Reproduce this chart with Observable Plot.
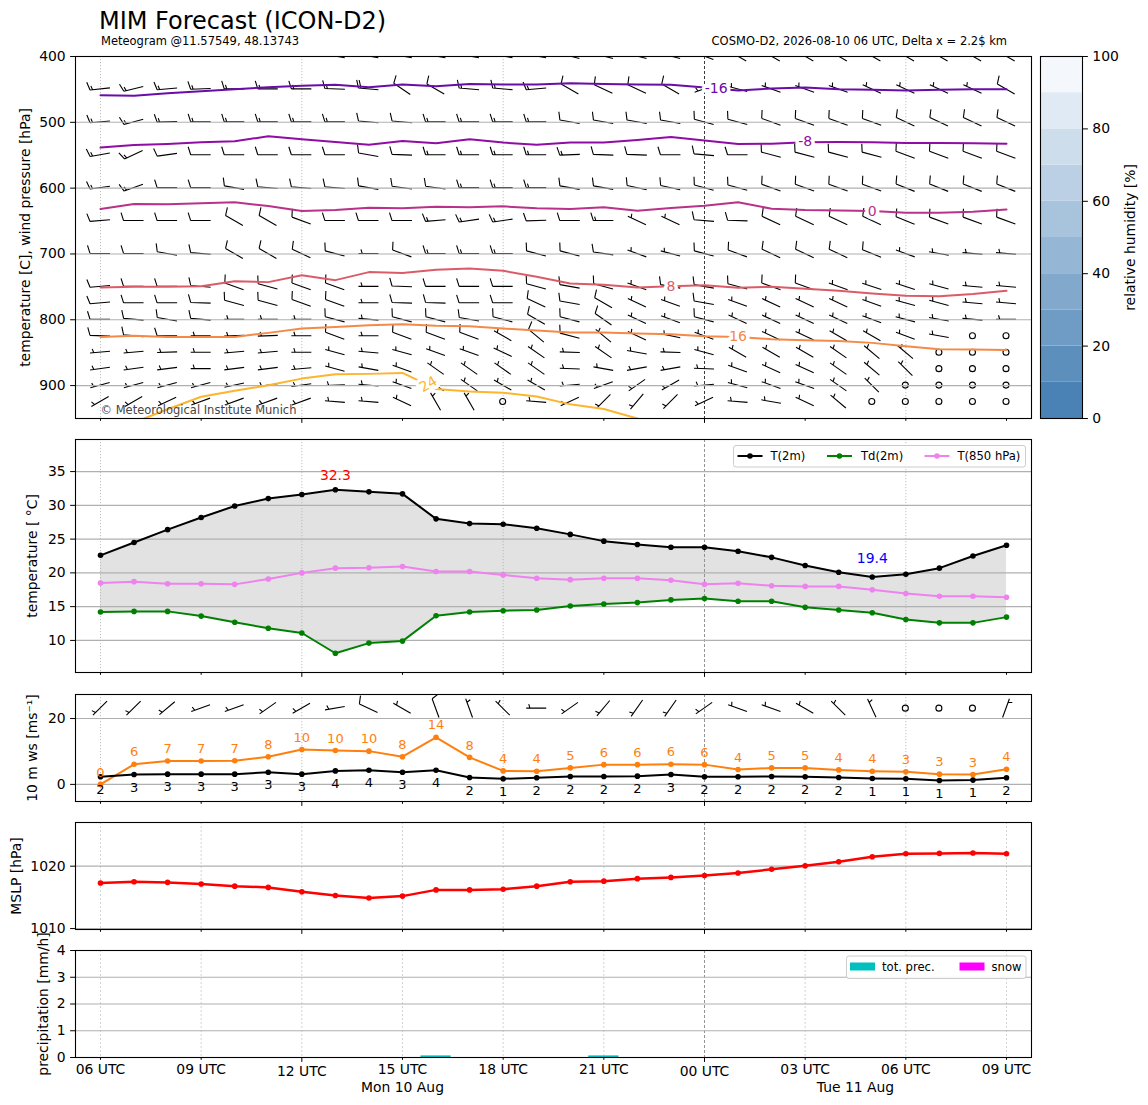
<!DOCTYPE html>
<html><head><meta charset="utf-8">
<script src="https://cdn.jsdelivr.net/npm/d3@7"></script>
<script src="https://cdn.jsdelivr.net/npm/@observablehq/plot@0.6"></script>
<style>
body{margin:0;background:#fff;font-family:"DejaVu Sans",sans-serif;}
#fig{position:relative;width:1148px;height:1105px;overflow:hidden;background:#fff;}
</style></head><body><div id="fig"></div>
<script>
// ---------------- DATA ----------------
const hours = [0,1,2,3,4,5,6,7,8,9,10,11,12,13,14,15,16,17,18,19,20,21,22,23,24,25,26,27]; // hours since Mon 06 UTC
const tickHours = [0,3,6,9,12,15,18,21,24,27];
const tickLabels = ["06 UTC","09 UTC","12 UTC","15 UTC","18 UTC","21 UTC","00 UTC","03 UTC","06 UTC","09 UTC"];
const majorHours = [6,18];
const dayLabels = ["Mon 10 Aug","Tue 11 Aug"];
const dayCenters = [9,22.5];

const t2m  = [22.6,24.5,26.4,28.2,29.9,31.0,31.6,32.3,32.0,31.7,28.0,27.3,27.2,26.6,25.7,24.7,24.2,23.8,23.8,23.2,22.3,21.1,20.1,19.4,19.8,20.7,22.5,24.1];
const td2m = [14.2,14.3,14.3,13.6,12.7,11.8,11.1,8.1,9.6,9.9,13.65,14.2,14.4,14.5,15.1,15.4,15.6,16.0,16.2,15.8,15.8,14.9,14.5,14.1,13.1,12.6,12.6,13.45];
const t850 = [18.5,18.7,18.4,18.4,18.3,19.1,20.0,20.7,20.75,20.95,20.2,20.2,19.7,19.2,19.0,19.2,19.2,18.9,18.3,18.45,18.1,18.0,18.0,17.5,16.95,16.55,16.55,16.4];

const gust10 = [0.0,6.1,7.1,7.1,7.2,8.4,10.6,10.3,10.1,8.4,14.3,8.2,4.1,4.0,5.0,6.0,6.0,6.1,6.0,4.5,5.0,5.0,4.4,4.0,3.8,3.1,3.0,4.6];
const ws10   = [2.3,3.0,3.1,3.1,3.1,3.7,3.1,4.1,4.3,3.7,4.3,2.1,1.7,2.0,2.4,2.4,2.5,3.0,2.3,2.3,2.4,2.3,2.1,1.8,1.7,1.2,1.3,2.0];
const wind10Dir = [225,225,230,250,250,235,240,260,295,300,340,340,315,270,235,220,215,215,235,290,290,300,315,335,0,0,0,20];
const wind10Spd = [5,5,5,5,5,5,5,5,10,5,10,5,5,5,5,5,5,5,5,5,5,5,5,5,0,0,0,5];

const mslp = [1017.3,1017.5,1017.4,1017.15,1016.8,1016.6,1015.9,1015.3,1014.9,1015.2,1016.2,1016.2,1016.3,1016.8,1017.5,1017.6,1018.0,1018.2,1018.5,1018.9,1019.5,1020.05,1020.7,1021.5,1022.0,1022.05,1022.1,1022.0];

const precipHours = [10,15];
const precipValues = [0.06,0.06];
const snowValues = [0,0];

// isotherms (pressure in hPa at each hour)
const isoLevels = ["-16","-8","0","8","16","24"];
const isoColors = ["#6a0ca8","#8f0da4","#b83289","#db5c68","#f48a47","#fdb52e"];
const isoM16 = [458.8,459.8,455.8,452.7,449.7,446.7,444.6,443.1,446.7,442.6,445.1,441.6,442.6,442.6,440.6,441.6,442.6,443.1,447,451.7,448.7,447.2,449.7,450.7,451.7,450.7,449.7,449.7];
const isoM8  = [538.4,534.4,532.9,530.3,528.8,521.2,525.8,529.8,533.9,528.3,531.8,525.8,530.8,533.9,530.8,530.8,526.8,522.2,527.8,532.9,532.4,530.3,529.8,530.3,531.3,531.3,531.8,532.4];
const iso0   = [631.7,624.1,624.6,623.1,621.6,627.2,634.8,633.3,629.7,630.7,628.2,629.2,627.7,630.7,631.7,629.2,634.3,630.2,626.7,621.6,631.2,633.3,633.8,634.8,637.3,637.3,635.8,632.3];
const iso8   = [750.9,749.9,749.9,748.9,741.3,742.8,732.2,739.8,727.6,729.1,724.0,722.0,725.6,734.7,745.0,746.9,750.9,749.0,747.4,751.4,749.9,752.9,756.0,760.0,763.6,764.1,761.0,756.0];
const iso16  = [826.0,824.4,826.0,826.0,826.0,819.9,813.3,810.8,808.2,806.7,809.2,809.7,813.3,816.3,819.4,819.4,820.9,822.0,825.0,826.0,829.6,831.1,832.1,835.1,840.2,844.8,845.3,845.8];
const iso24  = [975,956,936,917,908,899.5,889.4,882.7,882.2,880.7,905,909,911,916.6,928.5,935.5,950,965];
const isoLabelHours = [18.35,21,23,17,19,9.77];
const isoLabelPress = [448,529.5,635.5,749.5,825.5,898];

// wind barbs at pressure levels (direction deg, speed kt)
const barbLevels = [400,450,500,550,600,650,700,750,775,800,825,850,875,900,925];
const barbDir = [
 [270,270,270,270,270,270,270,280,280,280,280,280,280,280,285,285,285,285,290,300,300,300,300,300,300,300,300,300],
 [264,256,265,268,270,270,270,272,275,304,300,275,275,265,300,295,295,300,250,285,290,290,290,295,295,295,295,300],
 [265,255,268,270,270,270,270,270,275,275,270,270,270,270,280,280,280,280,285,285,290,290,290,290,295,295,295,295],
 [260,245,262,270,270,270,270,270,280,272,270,270,270,270,268,272,272,270,275,270,285,285,285,285,290,290,290,290],
 [262,250,270,270,280,275,275,275,280,278,278,270,270,270,280,280,282,282,285,285,290,290,290,290,292,292,292,292],
 [265,270,270,270,300,300,290,270,270,270,265,262,262,268,270,270,295,295,275,272,295,295,295,295,292,290,290,290],
 [270,270,280,275,300,300,295,285,270,290,270,270,270,285,285,278,290,285,285,290,295,295,295,292,290,280,275,275],
 [265,270,270,275,290,285,290,290,270,272,270,270,270,285,280,285,290,280,280,285,290,290,290,288,288,285,275,275],
 [265,270,270,272,285,285,290,290,270,272,272,270,270,295,280,300,295,290,280,290,295,295,295,290,285,285,275,275],
 [270,275,280,275,270,270,270,285,275,285,285,280,285,300,285,305,295,290,285,295,295,295,295,290,285,280,275,270],
 [272,275,270,270,268,268,270,290,270,290,290,290,300,310,285,310,295,282,290,290,295,295,300,300,290,280,0,0],
 [265,265,268,270,265,265,270,285,275,285,290,290,295,305,272,305,280,272,285,300,300,300,305,310,310,0,0,0],
 [262,262,263,270,263,263,265,285,280,290,305,305,305,305,272,280,260,260,272,290,295,295,305,310,315,0,0,0],
 [255,255,255,255,258,262,262,268,275,290,305,305,300,300,265,250,235,240,265,285,290,290,305,315,0,0,0,0],
 [240,240,245,250,250,250,250,275,275,295,330,330,0,275,245,225,220,225,245,275,280,295,310,0,0,0,0,0]
];
const barbSpd = [
 [15,15,15,15,15,15,15,15,15,15,15,15,15,15,15,15,15,15,15,15,15,15,15,15,15,15,15,15],
 [15,15,15,15,15,15,15,15,20,10,10,15,15,15,10,10,10,10,5,5,5,5,5,5,5,5,5,10],
 [15,15,15,15,15,15,15,15,10,10,15,15,15,15,10,10,10,10,10,10,10,10,10,10,10,10,10,10],
 [15,15,10,10,10,10,10,10,10,10,15,15,15,15,15,10,10,10,10,10,10,10,10,10,10,10,10,10],
 [15,15,10,10,10,10,10,10,10,10,10,15,15,15,10,10,10,10,10,10,10,10,10,10,10,10,10,10],
 [10,10,10,10,10,10,10,10,10,10,15,15,15,10,10,15,5,5,10,10,10,10,10,10,10,10,10,10],
 [10,10,10,10,10,10,10,10,5,10,15,15,15,10,10,10,5,5,10,10,10,10,10,10,5,5,5,5],
 [10,10,10,10,10,10,10,10,5,10,10,10,10,10,10,10,5,10,10,10,10,10,5,5,5,5,5,5],
 [10,10,10,10,10,10,10,10,5,10,10,10,10,10,10,10,5,5,10,5,5,5,5,5,5,5,5,5],
 [10,10,10,10,5,5,5,10,5,10,10,10,10,10,10,10,5,5,10,5,5,5,5,5,5,5,5,5],
 [10,10,10,5,5,5,5,10,5,10,10,10,5,10,10,5,5,5,5,5,5,5,5,5,5,5,0,0],
 [5,5,5,5,5,5,5,5,5,5,5,5,5,5,5,5,5,5,5,5,5,5,5,5,5,0,0,0],
 [5,5,5,5,5,5,5,5,5,5,5,5,5,5,5,5,5,5,5,5,5,5,5,5,5,0,0,0],
 [5,5,5,5,5,5,5,5,5,5,5,5,5,5,5,5,5,5,5,5,5,5,5,5,0,0,0,0],
 [5,5,5,5,5,5,5,5,5,5,5,5,0,5,5,5,5,5,5,5,5,5,5,0,0,0,0,0]
];

// colour bar
const rhLow  = [0,10,20,30,40,50,60,70,80,90];
const rhHigh = [10,20,30,40,50,60,70,80,90,100];
const rhColors = ["#4a82b5","#5d8fbd","#6f9cc4","#82a9cc","#95b6d4","#a8c3dc","#bbd0e4","#cdddec","#e0eaf4","#f4f8fc"];
const rhTicks = [0,20,40,60,80,100];

// ---------------- HELPERS ----------------
const fig = document.getElementById("fig");
const FONT = "DejaVu Sans";
const XD = [-0.745, 27.745];
const style = {fontFamily: FONT, fontSize: "13.9px", background: "transparent", overflow: "visible"};
const minorHours = tickHours.filter(h => !majorHours.includes(h));
const fmtTick = h => tickLabels[tickHours.indexOf(h)];

function place(el, top, left = 0) {
  el.style.position = "absolute"; el.style.top = top + "px"; el.style.left = left + "px";
  fig.appendChild(el);
}
let clipN = 0;
function barbPath(cx, cy, dir, spd, L) {
  const a = dir * Math.PI / 180, sx = Math.sin(a), sy = -Math.cos(a), fx = -sy, fy = sx;
  const H = 0.4 * L, Wd = 0.25 * L, S = 0.125 * L;
  const x0 = cx - sx * L / 2, y0 = cy - sy * L / 2;
  const pt = d => [x0 + sx * d, y0 + sy * d];
  let n = 5 * Math.round(spd / 5);
  const nFull = Math.floor(n / 10); n -= 10 * nFull;
  const half = n >= 5;
  const e = pt(L);
  let d = `M${x0},${y0}L${e[0]},${e[1]}`;
  let off = L;
  for (let i = 0; i < nFull; i++) {
    const b = pt(off);
    d += `M${b[0]},${b[1]}L${b[0] + fx * H + sx * Wd / 2},${b[1] + fy * H + sy * Wd / 2}`;
    off -= S;
  }
  if (half) {
    if (off === L) off -= 1.5 * S;
    const b = pt(off);
    d += `M${b[0]},${b[1]}L${b[0] + fx * H / 2 + sx * Wd / 4},${b[1] + fy * H / 2 + sy * Wd / 4}`;
  }
  return d;
}
function barbMark(rows, L) {
  return (index, scales, values, dim) => {
    const g = d3.create("svg:g");
    const id = "barbclip" + (++clipN);
    g.append("defs").append("clipPath").attr("id", id).append("rect")
      .attr("x", dim.marginLeft).attr("y", dim.marginTop)
      .attr("width", dim.width - dim.marginLeft - dim.marginRight)
      .attr("height", dim.height - dim.marginTop - dim.marginBottom);
    const gg = g.append("g").attr("clip-path", `url(#${id})`)
      .attr("fill", "none").attr("stroke", "black").attr("stroke-width", 1.1);
    for (const r of rows) {
      const cx = scales.x(r.h), cy = scales.y(r.p);
      if (r.spd < 2.5) gg.append("circle").attr("cx", cx).attr("cy", cy).attr("r", 0.15 * L);
      else gg.append("path").attr("d", barbPath(cx, cy, r.dir, r.spd, L));
    }
    return g.node();
  };
}
function xTicks(withLabels) {
  const f = withLabels ? fmtTick : () => "";
  return [
    Plot.axisX({ticks: minorHours, tickSize: 2.8, tickPadding: 3.5, tickFormat: f, fontSize: 13.9, label: null}),
    Plot.axisX({ticks: majorHours, tickSize: 4.9, tickPadding: 3.5, tickFormat: f, fontSize: 13.9, label: null})
  ];
}
function yLabel(text, dx) {
  return Plot.text([text], {frameAnchor: "left", dx, rotate: -90, textAnchor: "middle", lineAnchor: "middle", fontSize: 13.9, fill: "black"});
}
const vGrid6 = [0,6,12,24];
const vGrid3 = [0,3,6,9,12,15,21,24,27];

// ---------------- PANEL 1: upper air ----------------
const barbRows = [];
barbLevels.forEach((p, i) => hours.forEach((h, j) => barbRows.push({h, p, dir: barbDir[i][j], spd: barbSpd[i][j]})));
const isoSeries = [isoM16, isoM8, iso0, iso8, iso16, iso24];
const isoMarks = isoSeries.map((arr, k) =>
  Plot.line(arr.map((p, i) => ({h: hours[i], p})), {x: "h", y: "p", stroke: isoColors[k], strokeWidth: 2, clip: true}));
const isoLab = isoLevels.map((t, k) => ({t, h: isoLabelHours[k], p: isoLabelPress[k], c: isoColors[k]}));

const p1 = Plot.plot({
  width: 1148, height: 382, marginLeft: 75, marginRight: 117, marginTop: 10, marginBottom: 10, style,
  x: {domain: XD, axis: null}, y: {domain: [950, 400], axis: null}, color: {type: "identity"},
  marks: [
    Plot.ruleX(vGrid6, {stroke: "#b0b0b0", strokeWidth: 0.8, strokeDasharray: "1.2,1.8"}),
    Plot.ruleX([18], {stroke: "#222", strokeWidth: 0.9, strokeDasharray: "3,2"}),
    barbMark(barbRows, 20),
    Plot.ruleY([500,600,700,800,900], {stroke: "#b0b0b0", strokeWidth: 1.1}),
    ...isoMarks,
    Plot.text(isoLab.slice(0, 5), {x: "h", y: "p", text: "t", fill: "c", stroke: "white", strokeWidth: 7, paintOrder: "stroke", fontSize: 14}),
    Plot.text(isoLab.slice(5), {x: "h", y: "p", text: "t", fill: "c", stroke: "white", strokeWidth: 7, paintOrder: "stroke", fontSize: 14, rotate: -30}),
    Plot.text(["© Meteorological Institute Munich"], {frameAnchor: "bottom-left", dx: 25, dy: -8, lineAnchor: "middle", textAnchor: "start", fill: "#444", fontSize: 11.5}),
    Plot.axisY({ticks: [400,500,600,700,800,900], tickSize: 4.9, tickPadding: 4.9, fontSize: 13.9, label: null, tickFormat: d => String(d)}),
    ...xTicks(false),
    yLabel("temperature [C], wind pressure [hPa]", -50),
    Plot.frame({stroke: "black", strokeWidth: 1.1})
  ]
});
place(p1, 46);

// colour bar
const cb = Plot.plot({
  width: 148, height: 382, marginLeft: 40, marginRight: 66, marginTop: 10, marginBottom: 10, style,
  x: {domain: [0, 1], axis: null}, y: {domain: [0, 100], axis: null}, color: {type: "identity"},
  marks: [
    Plot.rect(rhLow.map((lo, i) => ({lo, hi: rhHigh[i], c: rhColors[i]})), {x1: 0, x2: 1, y1: "lo", y2: "hi", fill: "c"}),
    Plot.frame({stroke: "black", strokeWidth: 1.1}),
    Plot.axisY({anchor: "right", ticks: rhTicks, tickSize: 4.9, tickPadding: 4.9, fontSize: 13.9, label: null, tickFormat: d => String(d)}),
    Plot.text(["relative humidity [%]"], {frameAnchor: "right", dx: 48, rotate: -90, textAnchor: "middle", lineAnchor: "middle", fontSize: 13.9})
  ]
});
place(cb, 46, 1000);

// ---------------- PANEL 2: temperature ----------------
const tRows = hours.map((h, i) => ({h, T: t2m[i], Td: td2m[i], T850: t850[i]}));
const iMax = d3.maxIndex(t2m), iMin = d3.minIndex(t2m);
const p2 = Plot.plot({
  width: 1148, height: 253, marginLeft: 75, marginRight: 117, marginTop: 10, marginBottom: 10, style,
  x: {domain: XD, axis: null}, y: {domain: [5.25, 39.75], axis: null},
  marks: [
    Plot.areaY(tRows, {x: "h", y1: "Td", y2: "T", fill: "#e2e2e2"}),
    Plot.ruleX(vGrid6, {stroke: "#b0b0b0", strokeWidth: 0.8, strokeDasharray: "1.2,1.8"}),
    Plot.ruleX([18], {stroke: "#888", strokeWidth: 0.9, strokeDasharray: "3,2"}),
    Plot.ruleY([10,15,20,25,30,35], {stroke: "#b0b0b0", strokeWidth: 1.1}),
    Plot.line(tRows, {x: "h", y: "T850", stroke: "violet", strokeWidth: 2}),
    Plot.dot(tRows, {x: "h", y: "T850", fill: "violet", r: 2.8}),
    Plot.line(tRows, {x: "h", y: "Td", stroke: "green", strokeWidth: 2}),
    Plot.dot(tRows, {x: "h", y: "Td", fill: "green", r: 2.8}),
    Plot.line(tRows, {x: "h", y: "T", stroke: "black", strokeWidth: 2}),
    Plot.dot(tRows, {x: "h", y: "T", fill: "black", r: 2.8}),
    Plot.text([tRows[iMax]], {x: "h", y: "T", text: d => d.T.toFixed(1), dy: -14, fill: "red", fontSize: 13.9}),
    Plot.text([tRows[iMin]], {x: "h", y: "T", text: d => d.T.toFixed(1), dy: -18, fill: "blue", fontSize: 13.9}),
    Plot.axisY({ticks: [10,15,20,25,30,35], tickSize: 4.9, tickPadding: 4.9, fontSize: 13.9, label: null, tickFormat: d => String(d)}),
    ...xTicks(false),
    yLabel("temperature [ °C]", -43),
    Plot.frame({stroke: "black", strokeWidth: 1.1})
  ]
});
place(p2, 429);

// ---------------- PANEL 3: 10 m wind ----------------
const wRows = hours.map((h, i) => ({h, ws: ws10[i], gust: gust10[i], p: 23, dir: wind10Dir[i], spd: wind10Spd[i]}));
const p3 = Plot.plot({
  width: 1148, height: 127, marginLeft: 75, marginRight: 117, marginTop: 10, marginBottom: 10, style,
  x: {domain: XD, axis: null}, y: {domain: [-5.2, 27.3], axis: null},
  marks: [
    Plot.ruleX(vGrid6, {stroke: "#b0b0b0", strokeWidth: 0.8, strokeDasharray: "1.2,1.8"}),
    Plot.ruleX([18], {stroke: "#888", strokeWidth: 0.9, strokeDasharray: "3,2"}),
    Plot.ruleY([0, 20], {stroke: "#b0b0b0", strokeWidth: 1.1}),
    barbMark(wRows, 20),
    Plot.line(wRows, {x: "h", y: "gust", stroke: "#ff7f0e", strokeWidth: 2}),
    Plot.dot(wRows, {x: "h", y: "gust", fill: "#ff7f0e", r: 2.8}),
    Plot.line(wRows, {x: "h", y: "ws", stroke: "black", strokeWidth: 2}),
    Plot.dot(wRows, {x: "h", y: "ws", fill: "black", r: 2.8}),
    Plot.text(wRows, {x: "h", y: "gust", text: d => String(Math.floor(d.gust)), dy: -12, fill: "#ff7f0e", fontSize: 13}),
    Plot.text(wRows, {x: "h", y: "ws", text: d => String(Math.floor(d.ws)), dy: 13, fill: "black", fontSize: 13}),
    Plot.axisY({ticks: [0, 20], tickSize: 4.9, tickPadding: 4.9, fontSize: 13.9, label: null, tickFormat: d => String(d)}),
    ...xTicks(false),
    yLabel("10 m ws [ms⁻¹]", -43),
    Plot.frame({stroke: "black", strokeWidth: 1.1})
  ]
});
place(p3, 684);

// ---------------- PANEL 4: MSLP ----------------
const mRows = hours.map((h, i) => ({h, p: mslp[i]}));
const p4 = Plot.plot({
  width: 1148, height: 127, marginLeft: 75, marginRight: 117, marginTop: 10, marginBottom: 10, style,
  x: {domain: XD, axis: null}, y: {domain: [1009.85, 1027.0], axis: null},
  marks: [
    Plot.ruleX(vGrid3, {stroke: "#c8c8c8", strokeWidth: 0.8, strokeDasharray: "2,2"}),
    Plot.ruleX([18], {stroke: "#888", strokeWidth: 0.9, strokeDasharray: "3,2"}),
    Plot.ruleY([1010, 1020], {stroke: "#b0b0b0", strokeWidth: 1.1}),
    Plot.line(mRows, {x: "h", y: "p", stroke: "red", strokeWidth: 2.5}),
    Plot.dot(mRows, {x: "h", y: "p", fill: "red", r: 2.8}),
    Plot.axisY({ticks: [1010, 1020], tickSize: 4.9, tickPadding: 4.9, fontSize: 13.9, label: null, tickFormat: d => String(d)}),
    ...xTicks(false),
    yLabel("MSLP [hPa]", -59),
    Plot.frame({stroke: "black", strokeWidth: 1.1})
  ]
});
place(p4, 812);

// ---------------- PANEL 5: precipitation ----------------
const prRows = precipHours.map((h, i) => ({h, v: precipValues[i], s: snowValues[i]}));
const p5 = Plot.plot({
  width: 1148, height: 165, marginLeft: 75, marginRight: 117, marginTop: 10, marginBottom: 48, style,
  x: {domain: XD, axis: null}, y: {domain: [0, 4], axis: null},
  marks: [
    Plot.ruleX(vGrid3, {stroke: "#c8c8c8", strokeWidth: 0.8, strokeDasharray: "2,2"}),
    Plot.ruleX([18], {stroke: "#888", strokeWidth: 0.9, strokeDasharray: "3,2"}),
    Plot.ruleY([1, 2, 3], {stroke: "#b0b0b0", strokeWidth: 1.1}),
    Plot.rectY(prRows, {x1: d => d.h - 0.45, x2: d => d.h + 0.45, y: "v", fill: "#00bfbf"}),
    Plot.rectY(prRows, {x1: d => d.h - 0.45, x2: d => d.h + 0.45, y: "s", fill: "magenta"}),
    Plot.axisY({ticks: [0, 1, 2, 3, 4], tickSize: 4.9, tickPadding: 4.9, fontSize: 13.9, label: null, tickFormat: d => String(d)}),
    ...xTicks(true),
    Plot.text(dayLabels.map((t, i) => ({t, h: dayCenters[i]})), {x: "h", text: "t", frameAnchor: "bottom", dy: 30, lineAnchor: "middle", fontSize: 13.9}),
    yLabel("precipitation [mm/h]", -32),
    Plot.frame({stroke: "black", strokeWidth: 1.1})
  ]
});
place(p5, 940);

// ---------------- OVERLAY: titles & legends ----------------
const ov = d3.create("svg").attr("width", 1148).attr("height", 1105)
  .style("font-family", FONT).style("pointer-events", "none");
ov.append("text").attr("x", 99).attr("y", 29).attr("font-size", 24).text("MIM Forecast (ICON-D2)");
ov.append("text").attr("x", 101).attr("y", 45).attr("font-size", 11.5).text("Meteogram @11.57549, 48.13743");
ov.append("text").attr("x", 1007).attr("y", 45).attr("font-size", 11.5).attr("text-anchor", "end").text("COSMO-D2, 2026-08-10 06 UTC, Delta x = 2.2$ km");

// temperature legend
const tl = ov.append("g");
tl.append("rect").attr("x", 733.5).attr("y", 445.5).attr("width", 292).attr("height", 21.5).attr("rx", 2.5)
  .attr("fill", "white").attr("fill-opacity", 0.85).attr("stroke", "#cccccc");
[["T(2m)", "black", 737.5, 770.5], ["Td(2m)", "green", 827, 861], ["T(850 hPa)", "violet", 924.5, 957.5]].forEach(([t, c, x0, xt]) => {
  tl.append("line").attr("x1", x0).attr("x2", x0 + 25).attr("y1", 456).attr("y2", 456).attr("stroke", c).attr("stroke-width", 2);
  tl.append("circle").attr("cx", x0 + 12.5).attr("cy", 456).attr("r", 2.8).attr("fill", c);
  tl.append("text").attr("x", xt).attr("y", 460).attr("font-size", 11.6).text(t);
});
// precipitation legend
const pl = ov.append("g");
pl.append("rect").attr("x", 846.5).attr("y", 956).attr("width", 179.5).attr("height", 22.5).attr("rx", 2.5)
  .attr("fill", "white").attr("fill-opacity", 0.85).attr("stroke", "#cccccc");
[["tot. prec.", "#00bfbf", 850, 882], ["snow", "magenta", 959.5, 991.5]].forEach(([t, c, x0, xt]) => {
  pl.append("rect").attr("x", x0).attr("y", 962.5).attr("width", 25).attr("height", 8).attr("fill", c);
  pl.append("text").attr("x", xt).attr("y", 971).attr("font-size", 11.6).text(t);
});
place(ov.node(), 0, 0);
</script></body></html>
